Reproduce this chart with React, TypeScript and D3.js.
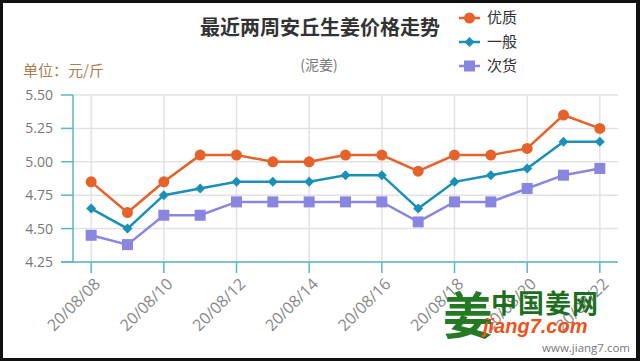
import React from "react";
import * as d3 from "d3";

const dates = ["20/08/08","20/08/09","20/08/10","20/08/11","20/08/12","20/08/13","20/08/14","20/08/15","20/08/16","20/08/17","20/08/18","20/08/19","20/08/20","20/08/21","20/08/22"];
const premium = [4.85,4.62,4.85,5.05,5.05,5.00,5.00,5.05,5.05,4.93,5.05,5.05,5.10,5.35,5.25];
const regular = [4.65,4.50,4.75,4.80,4.85,4.85,4.85,4.90,4.90,4.65,4.85,4.90,4.95,5.15,5.15];
const inferior = [4.45,4.38,4.60,4.60,4.70,4.70,4.70,4.70,4.70,4.55,4.70,4.70,4.80,4.90,4.95];
const yTicks = [4.25,4.5,4.75,5.0,5.25,5.5];
const seriesNames = ["优质","一般","次货"];
const colors = ["#e5622b","#1b90b6","#8a86e0"];

const W = 640, H = 361;
const left = 73, right = 618, top = 95, bottom = 262;

function Marker({ kind, x, y, color }: { kind: number; x: number; y: number; color: string }) {
  if (kind === 0) return <circle cx={x} cy={y} r={5.5} fill={color} />;
  if (kind === 1) return <path d={`M${x},${y - 5}L${x + 5},${y}L${x},${y + 5}L${x - 5},${y}Z`} fill={color} />;
  return <rect x={x - 5.5} y={y - 5.5} width={11} height={11} fill={color} />;
}

export default function App() {
  const x = d3.scaleBand<string>().domain(dates).range([left, right]).padding(0);
  const cx = (d: string) => (x(d) as number) + x.bandwidth() / 2;
  const y = d3.scaleLinear().domain([4.25, 5.5]).range([bottom, top]);
  const data = [premium, regular, inferior];
  const line = d3.line<number>().x((_, i) => cx(dates[i])).y((v) => y(v));
  const labeled = dates.filter((_, i) => i % 2 === 0);
  const axisColor = "#5bb6c9";
  const font = "'Open Sans', 'Noto Sans CJK SC', sans-serif";
  const cjk = "'Noto Sans CJK SC', sans-serif";

  return (
    <svg width={W} height={H} style={{ position: "absolute", left: 0, top: 0 }}>
      <rect x={0} y={0} width={W} height={H} fill="#111" />
      <rect x={3} y={3} width={633} height={355} fill="#fff" />
      {/* grid */}
      {yTicks.map((t) => (
        <line key={"h" + t} x1={left} x2={right} y1={y(t)} y2={y(t)} stroke="#e2e2e2" strokeWidth={1.5} />
      ))}
      {labeled.map((d) => (
        <line key={"v" + d} x1={cx(d)} x2={cx(d)} y1={top} y2={bottom} stroke="#e2e2e2" strokeWidth={1.5} />
      ))}
      {/* axes */}
      <line x1={left} x2={left} y1={top} y2={bottom} stroke={axisColor} strokeWidth={1.5} />
      <line x1={left - 12} x2={right} y1={bottom} y2={bottom} stroke={axisColor} strokeWidth={1.5} />
      {yTicks.map((t) => (
        <g key={"yt" + t}>
          <line x1={left - 12} x2={left} y1={y(t)} y2={y(t)} stroke={axisColor} strokeWidth={1.5} />
          <text x={53} y={y(t)} dy="0.35em" textAnchor="end" fontSize={14} fill="#777" fontFamily={font}>
            {t.toFixed(2)}
          </text>
        </g>
      ))}
      {labeled.map((d) => (
        <g key={"xt" + d}>
          <line x1={cx(d)} x2={cx(d)} y1={bottom} y2={bottom + 11} stroke={axisColor} strokeWidth={1.5} />
          <text
            transform={`translate(${cx(d) + 6},${bottom + 19}) rotate(-45)`}
            textAnchor="end"
            dy="0.35em"
            fontSize={16}
            fill="#888"
            fontFamily={font}
          >
            {d}
          </text>
        </g>
      ))}
      {/* series */}
      {data.map((s, k) => (
        <g key={"s" + k}>
          <path d={line(s) as string} fill="none" stroke={colors[k]} strokeWidth={2.5} />
          {s.map((v, i) => (
            <Marker key={i} kind={k} x={cx(dates[i])} y={y(v)} color={colors[k]} />
          ))}
        </g>
      ))}
      {/* titles */}
      <text x={320} y={35} textAnchor="middle" fontSize={20} fontWeight="bold" fill="#333" fontFamily={cjk}>
        最近两周安丘生姜价格走势
      </text>
      <text x={319} y={70} textAnchor="middle" fontSize={14} fill="#777" fontFamily={cjk}>
        (泥姜)
      </text>
      <text x={23} y={76} fontSize={15} fill="#a97e52" fontFamily={cjk}>
        单位：元/斤
      </text>
      {/* legend */}
      {seriesNames.map((n, k) => {
        const ly = 18 + k * 24;
        return (
          <g key={"lg" + k}>
            <line x1={459} x2={480} y1={ly} y2={ly} stroke={colors[k]} strokeWidth={2.5} />
            <Marker kind={k} x={469.5} y={ly} color={colors[k]} />
            <text x={487} y={ly} dy="0.36em" fontSize={15} fill="#333" fontFamily={cjk}>
              {n}
            </text>
          </g>
        );
      })}
      {/* watermark */}
      <text x={468} y={334} textAnchor="middle" fontSize={50} fontWeight="bold" fill="#237a23" fontFamily={cjk}>
        姜
      </text>
      <text x={491} y={313} fontSize={26} fontWeight="bold" fill="#1d6f1d" fontFamily={cjk} letterSpacing={1}>
        中国姜网
      </text>
      <text x={483} y={333} fontSize={20} fontWeight="bold" fontStyle="italic" fill="#f0501a" fontFamily="'Liberation Sans', Arial, sans-serif">
        jiang7.com
      </text>
      <text x={630} y={352} textAnchor="end" fontSize={11.5} fill="#777" fontFamily={font}>
        www.jiang7.com
      </text>
    </svg>
  );
}
